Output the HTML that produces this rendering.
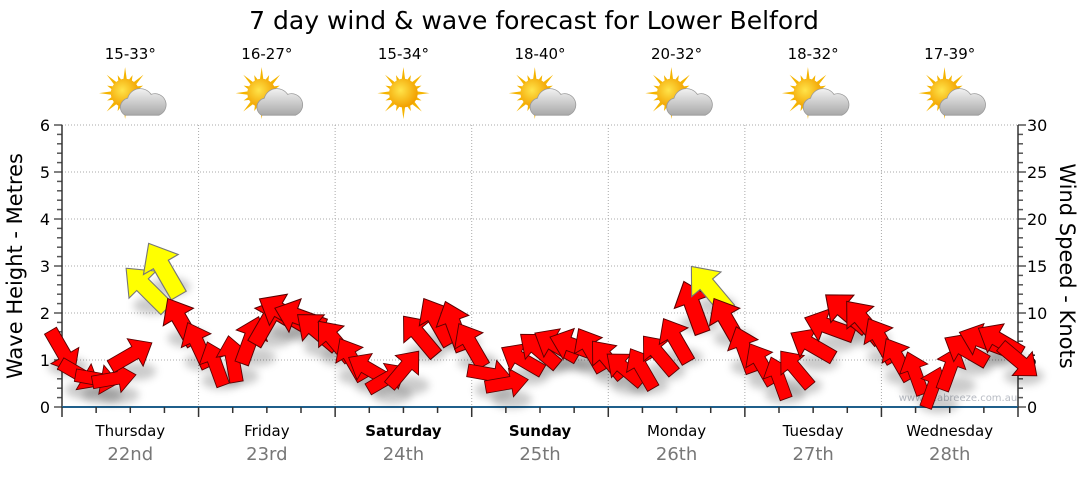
<!DOCTYPE html>
<html><head><meta charset="utf-8"><style>
body{margin:0;background:#fff;font-family:"DejaVu Sans","Liberation Sans",sans-serif;}
svg text{font-family:"DejaVu Sans","Liberation Sans",sans-serif;}
</style></head><body>
<svg id="c" width="1080" height="475" viewBox="0 0 1080 475" xmlns="http://www.w3.org/2000/svg">
<defs>
<filter id="sh" x="-50%" y="-50%" width="200%" height="200%"><feGaussianBlur stdDeviation="4"/></filter>
<radialGradient id="sun" cx="0.4" cy="0.4" r="0.6"><stop offset="0" stop-color="#ffe44a"/><stop offset="1" stop-color="#f2a100"/></radialGradient>
<linearGradient id="cloud" x1="0" y1="0" x2="0" y2="1"><stop offset="0" stop-color="#f2f2f2"/><stop offset="1" stop-color="#a8a8a8"/></linearGradient>
</defs>
<text x="534" y="29" font-size="25" text-anchor="middle" fill="#000">7 day wind &amp; wave forecast for Lower Belford</text>
<g id="grid"></g><g id="axes"></g><g id="wx"></g>
<text x="958" y="401" font-size="10" fill="#b8bcc4" text-anchor="middle">www.seabreeze.com.au</text>
<g id="marks"></g>
<text transform="translate(22,266) rotate(-90)" font-size="21" text-anchor="middle">Wave Height - Metres</text>
<text transform="translate(1060,266) rotate(90)" font-size="21" text-anchor="middle">Wind Speed - Knots</text>
</svg>
<script>
const days=["Thursday","Friday","Saturday","Sunday","Monday","Tuesday","Wednesday"];
const dates=["22nd","23rd","24th","25th","26th","27th","28th"];
const boldDays=[false,false,true,true,false,false,false];
const temps=["15-33°","16-27°","15-34°","18-40°","20-32°","18-32°","17-39°"];
const cloudy=[true,true,false,true,true,true,true];
const leftTicks=[0,1,2,3,4,5,6];
const rightTicks=[0,5,10,15,20,25,30];
const hours=[0,3,6,9,12,15,18,21,24,27,30,33,36,39,42,45,48,51,54,57,60,63,66,69,72,75,78,81,84,87,90,93,96,99,102,105,108,111,114,117,120,123,126,129,132,135,138,141,144,147,150,153,156,159,162,165,168];
const windKnots=[6,3.5,3,3,5.5,12.5,14.5,9,6.5,4.5,5,7,9,10,9.5,8,7,5,4,3,4,7.5,9,8.5,6.5,3.5,2.5,5,6,6.5,6.5,6,5,4,4,5.5,7,10.5,12.5,9,6,4.5,3,4,6.5,8.5,10,9,7,5,3.5,2,4,6,7,7,5];
const windDir=[150,120,100,80,60,315,330,330,335,340,350,20,30,300,290,310,320,330,300,60,40,320,330,340,330,100,80,300,310,300,290,330,320,310,330,320,330,340,320,330,340,330,340,320,300,290,310,320,330,330,340,20,20,300,290,300,130];
const NS="http://www.w3.org/2000/svg";
const X0=62,X1=1018,Y0=407,Y1=125;
const xs=h=>X0+h/168*(X1-X0);
const yL=m=>Y0-m/6*(Y0-Y1);
const yR=k=>Y0-k/30*(Y0-Y1);
function mk(t,a,p){const e=document.createElementNS(NS,t);for(const k in a)e.setAttribute(k,a[k]);(p||document.getElementById('c')).appendChild(e);return e;}
const G=document.getElementById('grid'),A=document.getElementById('axes'),W=document.getElementById('wx'),M=document.getElementById('marks');
leftTicks.forEach(v=>{if(v>0){const l=mk('line',{x1:X0,x2:X1,y1:yL(v),y2:yL(v),stroke:'#aaa','stroke-dasharray':'1,2'},G);}
 const t=mk('text',{x:50,y:yL(v)+6,'font-size':16,'text-anchor':'end'},A);t.textContent=v;});
rightTicks.forEach(v=>{const t=mk('text',{x:1027,y:yR(v)+6,'font-size':16},A);t.textContent=v;});
for(let i=0;i<=30;i++){const y=yL(i*0.2);const len=i%5==0?8:5;mk('line',{x1:X0-len,x2:X0,y1:y,y2:y,stroke:'#555','stroke-width':1.5},A);
 const y2=yR(i);mk('line',{x1:X1,x2:X1+(i%5==0?8:5),y1:y2,y2:y2,stroke:'#555','stroke-width':1.5},A);}
mk('line',{x1:X0,x2:X0,y1:Y1,y2:Y0,stroke:'#333','stroke-width':1.5},A);
mk('line',{x1:X1,x2:X1,y1:Y1,y2:Y0,stroke:'#333','stroke-width':1.5},A);
mk('line',{x1:X0,x2:X1,y1:Y0,y2:Y0,stroke:'#1f5f8b','stroke-width':2},A);
for(let h=0;h<=168;h+=6){const x=xs(h);mk('line',{x1:x,x2:x,y1:Y0,y2:Y0+(h%24==0?10:6),stroke:'#333','stroke-width':1.5},A);
 if(h%24==0&&h>0&&h<168){const l=mk('line',{x1:x,x2:x,y1:Y1,y2:Y0,stroke:'#aaa','stroke-dasharray':'1,2'},G);}}
days.forEach((d,i)=>{const cx=xs(i*24+12);
 const t=mk('text',{x:cx,y:436,'font-size':15,'text-anchor':'middle','font-weight':boldDays[i]?'bold':'normal'},A);t.textContent=d;
 const t2=mk('text',{x:cx,y:460,'font-size':18,'text-anchor':'middle',fill:'#777'},A);t2.textContent=dates[i];
 const t3=mk('text',{x:cx,y:59,'font-size':15,'text-anchor':'middle'},W);t3.textContent=temps[i];
 const g=mk('g',{transform:`translate(${cx},97) scale(1.3)`},W);
 const sx=cloudy[i]?-4:0;
 for(let k=0;k<16;k++){const a=k*Math.PI/8,r=k%2?15:20;mk('polygon',{points:`${sx+Math.cos(a-0.14)*10},${-3+Math.sin(a-0.14)*10} ${sx+Math.cos(a)*r},${-3+Math.sin(a)*r} ${sx+Math.cos(a+0.14)*10},${-3+Math.sin(a+0.14)*10}`,fill:'#f5b400'},g);}
 mk('circle',{cx:sx,cy:-3,r:11,fill:'url(#sun)'},g);
 if(cloudy[i]){mk('path',{d:'M-4,14 a7,7 0 0 1 2,-13 a10,10 0 0 1 18,-3 a7,7 0 0 1 6,16 z',fill:'url(#cloud)',stroke:'#999','stroke-width':0.6},g);}
});
function arrowPts(){return [[0,-22],[14,-5],[6,-5],[6,20],[-6,20],[-6,-5],[-14,-5]].map(p=>p.join(',')).join(' ');}
hours.forEach((h,i)=>{const x=xs(h),y=yR(windKnots[i]);
 mk('ellipse',{cx:x+6,cy:y+16,rx:20,ry:9,fill:'rgba(0,0,0,0.2)',filter:'url(#sh)'},M);});
hours.forEach((h,i)=>{const x=xs(h),y=yR(windKnots[i]);const col=windKnots[i]>12?'#ffff00':'#ff0000';const sc=0.95+windKnots[i]/30;
 const p=mk('polygon',{points:arrowPts(),fill:col,stroke:col=='#ffff00'?'#777':'#5a0000','stroke-width':0.8,transform:`translate(${x},${y}) rotate(${windDir[i]}) scale(${sc})`},M);
 
 });
</script>
</body></html>
